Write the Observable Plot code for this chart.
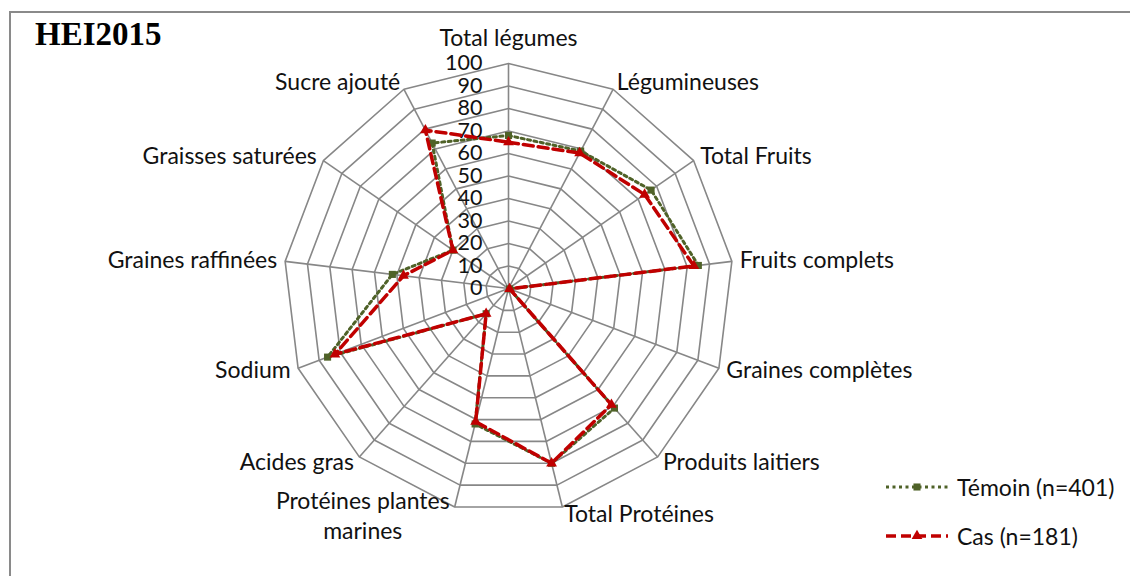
<!DOCTYPE html>
<html>
<head>
<meta charset="utf-8">
<script src="https://cdn.jsdelivr.net/npm/d3@7"></script>
<script src="https://cdn.jsdelivr.net/npm/@observablehq/plot@0.6"></script>
<style>
  html, body { margin: 0; padding: 0; background: #fff; }
  #wrap { position: relative; width: 1130px; height: 576px; overflow: hidden; font-family: Lato, "Open Sans", sans-serif; }
  #frame { position: absolute; left: 9px; top: 11px; width: 2000px; height: 2000px; border-left: 2px solid #8a8a8a; border-top: 2px solid #8a8a8a; }
  #title { position: absolute; left: 35px; top: 14px; font-family: "Liberation Serif", "DejaVu Serif", serif; font-weight: bold; font-size: 33px; color: #000; line-height: 40px; }
  #chart { position: absolute; left: 0; top: 0; }
  #legend { position: absolute; left: 884px; top: 470px; font-size: 23px; color: #111; }
  .row { display: flex; align-items: center; height: 34px; margin-bottom: 15px; }
  .row svg { margin-right: 9px; }
</style>
</head>
<body>
<div id="wrap">
  <div id="frame"></div>
  <div id="chart"></div>
  <div id="title">HEI2015</div>
  <div id="legend"></div>
</div>
<script>
const categories = ["Total légumes","Légumineuses","Total Fruits","Fruits complets","Graines complètes","Produits laitiers","Total Protéines","Protéines plantes\nmarines","Acides gras","Sodium","Graines raffinées","Graisses saturées","Sucre ajouté"];
const temoin = [68, 69, 77, 85, 0.5, 71, 80, 62, 15, 86, 52, 30, 73];
const cas    = [65, 68, 73.5, 83, 0.5, 69, 80, 61, 15, 82.5, 47, 30, 79.5];
const ticks = [0, 10, 20, 30, 40, 50, 60, 70, 80, 90, 100];
const seriesNames = ["Témoin (n=401)", "Cas (n=181)"];
const colors = ["#4F6228", "#C00000"];

const W = 1130, H = 576, PX = 2.25, CX = 508, CY = 288;
const N = categories.length;
const ang = i => 2 * Math.PI * i / N;
const pt = (i, r) => ({x: r * Math.sin(ang(i)), y: r * Math.cos(ang(i))});

const rings = ticks.filter(t => t > 0).flatMap(t => categories.map((c, i) => ({ring: t, ...pt(i, t)})));
const spokes = categories.map((c, i) => pt(i, 100));
const labels = categories.map((c, i) => ({text: c, s: Math.sin(ang(i)), ...pt(i, 100 + 8 / PX)}));
const sT = categories.map((c, i) => ({...pt(i, temoin[i])}));
const sC = categories.map((c, i) => ({...pt(i, cas[i])}));

const multi = labels.filter(d => d.text.includes("\n"));
const single = labels.filter(d => !d.text.includes("\n"));

const fs = 23, fsTick = 21.5;
const chart = Plot.plot({
  width: W, height: H, margin: 0,
  x: {domain: [-CX / PX, (W - CX) / PX], range: [0, W]},
  y: {domain: [-(H - CY) / PX, CY / PX], range: [H, 0]},
  axis: null,
  style: {fontFamily: "Lato, 'Open Sans', sans-serif", background: "transparent"},
  marks: [
    Plot.line(rings, {x: "x", y: "y", z: "ring", curve: "linear-closed", stroke: "#878787", strokeWidth: 1.6}),
    Plot.link(spokes, {x1: d => 0, y1: d => 0, x2: "x", y2: "y", stroke: "#878787", strokeWidth: 1.6}),
    Plot.text(ticks, {x: d => 0, y: d => d, text: d => String(d), textAnchor: "end", dx: -26, fontSize: fsTick, fill: "#111"}),
    Plot.text(single.filter(d => d.s > 0.05), {x: "x", y: "y", text: "text", textAnchor: "start", fontSize: fs, fill: "#111"}),
    Plot.text(single.filter(d => d.s < -0.05), {x: "x", y: "y", text: "text", textAnchor: "end", fontSize: fs, fill: "#111"}),
    Plot.text(single.filter(d => Math.abs(d.s) <= 0.05), {x: "x", y: "y", text: "text", textAnchor: "middle", dy: -17, fontSize: fs, fill: "#111"}),
    Plot.text(multi, {x: "x", y: "y", text: "text", textAnchor: "middle", dx: -90, lineHeight: 1.3, fontSize: fs, fill: "#111"}),
    Plot.line(sT, {x: "x", y: "y", curve: "linear-closed", stroke: colors[0], strokeWidth: 3, strokeDasharray: "3 3.5"}),
    Plot.dot(sT, {x: "x", y: "y", symbol: "square", r: 4, fill: colors[0]}),
    Plot.line(sC, {x: "x", y: "y", curve: "linear-closed", stroke: colors[1], strokeWidth: 3.5, strokeDasharray: "10 5"}),
    Plot.dot(sC, {x: "x", y: "y", symbol: "triangle", r: 4, fill: colors[1]})
  ]
});
document.getElementById("chart").append(chart);

// legend
const leg = document.getElementById("legend");
const dashes = ["3 3.5", "10 5"];
const widths = [3, 3.5];
seriesNames.forEach((name, k) => {
  const row = document.createElement("div");
  row.className = "row";
  const svg = d3.create("svg").attr("width", 64).attr("height", 14);
  svg.append("line").attr("x1", 2).attr("x2", 64).attr("y1", 7).attr("y2", 7)
    .attr("stroke", colors[k]).attr("stroke-width", widths[k]).attr("stroke-dasharray", dashes[k]);
  const sym = k === 0 ? d3.symbolSquare : d3.symbolTriangle;
  svg.append("path").attr("d", d3.symbol(sym, 50)()).attr("transform", "translate(33,7)").attr("fill", colors[k]);
  row.append(svg.node());
  const t = document.createElement("span");
  t.textContent = name;
  row.append(t);
  leg.append(row);
});
</script>
</body>
</html>
